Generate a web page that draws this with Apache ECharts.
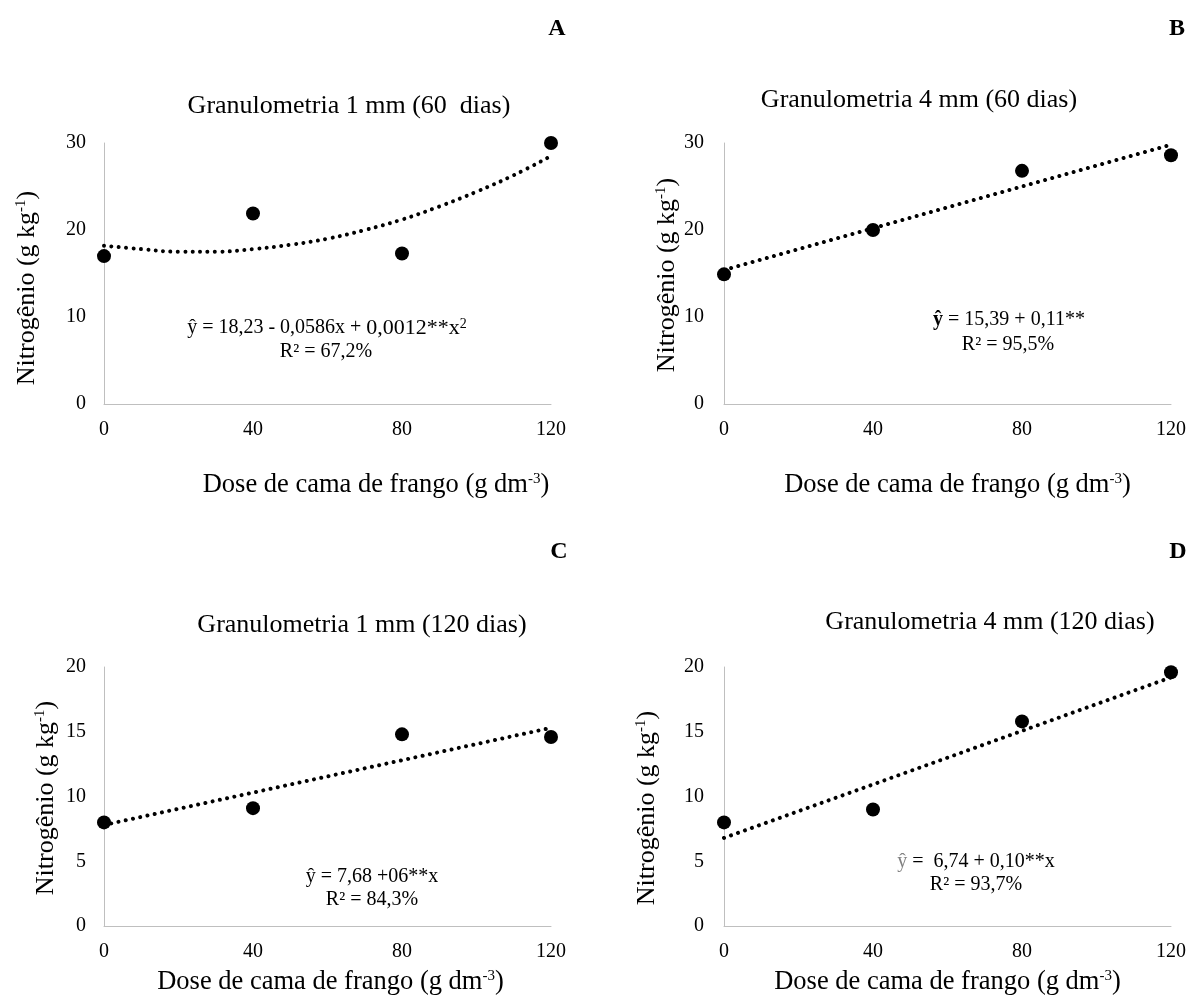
<!DOCTYPE html>
<html>
<head>
<meta charset="utf-8">
<script src="https://cdn.jsdelivr.net/npm/echarts@6/dist/echarts.min.js"></script>
<style>html,body{margin:0;padding:0;background:#fff}#chart{width:1189px;height:1000px}</style>
</head>
<body>
<div id="chart"></div>
<script>
// ---- data ----
const doses = [0, 40, 80, 120];
const xTicks = [0, 40, 80, 120];
const panelLetters = ['A', 'B', 'C', 'D'];
const panelTitles = [
  'Granulometria 1 mm (60  dias)',
  'Granulometria 4 mm (60 dias)',
  'Granulometria 1 mm (120 dias)',
  'Granulometria 4 mm (120 dias)'
];
const nitrogenA = [17.0, 21.9, 17.3, 30.0];
const nitrogenB = [14.9, 20.0, 26.8, 28.6];
const nitrogenC = [8.0, 9.1, 14.8, 14.6];
const nitrogenD = [8.0, 9.0, 15.8, 19.6];
// trend lines
const trendAx = [0, 10, 20, 30, 40, 50, 60, 70, 80, 90, 100, 110, 120];
const trendAy = [18.2, 17.8, 17.5, 17.5, 17.8, 18.3, 19.0, 20.0, 21.2, 22.7, 24.4, 26.3, 28.5];
const trendBx = [0, 120];
const trendBy = [15.4, 29.8];
const trendCx = [0, 120];
const trendCy = [7.8, 15.3];
const trendDx = [0, 120];
const trendDy = [6.8, 19.2];
const yMax = [30, 30, 20, 20];
const yInterval = [10, 10, 5, 5];

const FONT = '"Liberation Serif", "Times New Roman", serif';
const chart = echarts.init(document.getElementById('chart'));

const grids = [
  {left: 104, top: 143, width: 447, height: 261},
  {left: 724, top: 143, width: 448, height: 261},
  {left: 104, top: 667, width: 447, height: 259},
  {left: 724, top: 667, width: 448, height: 259}
];
const xNamePad = [[0, 0, 0, 97], [0, 0, 0, 20], [0, 0, 0, 6], [0, 0, 0, 0]];
const yNamePad = [[0, 29, 0, 0], [0, 3, 0, 0], [0, 3, 0, 0], [0, 23, 0, 0]];
const yNameGap = [64, 44, 45, 64];
const xNameGap = [68, 68, 43, 43];

const axisLine = {show: true, lineStyle: {color: '#bfbfbf', width: 1}};
const xAxes = grids.map((g, i) => ({
  type: 'value', gridIndex: i, min: 0, max: 120, interval: 40,
  axisLine: axisLine, axisTick: {show: false}, splitLine: {show: false},
  axisLabel: {fontFamily: FONT, fontSize: 20, color: '#000', margin: 16},
  name: 'Dose de cama de frango (g dm{sup|-3})',
  nameLocation: 'middle', nameGap: xNameGap[i],
  nameTextStyle: {
    fontFamily: FONT, fontSize: 26.5, color: '#000', padding: xNamePad[i],
    rich: {sup: {fontFamily: FONT, fontSize: 15, color: '#000', verticalAlign: 'top', lineHeight: 26}}
  }
}));
const yAxes = grids.map((g, i) => ({
  type: 'value', gridIndex: i, min: 0, max: yMax[i], interval: yInterval[i],
  axisLine: axisLine, axisTick: {show: false}, splitLine: {show: false},
  axisLabel: {fontFamily: FONT, fontSize: 20, color: '#000', margin: i % 2 ? 20 : 18},
  name: 'Nitrogênio (g kg{sup|-1})',
  nameLocation: 'middle', nameGap: yNameGap[i], nameRotate: 90,
  nameTextStyle: {
    fontFamily: FONT, fontSize: 26, color: '#000', padding: yNamePad[i],
    rich: {sup: {fontFamily: FONT, fontSize: 15, color: '#000', verticalAlign: 'top', lineHeight: 26}}
  }
}));

const pts = [nitrogenA, nitrogenB, nitrogenC, nitrogenD];
const trends = [[trendAx, trendAy], [trendBx, trendBy], [trendCx, trendCy], [trendDx, trendDy]];
const series = [];
trends.forEach((t, i) => {
  series.push({
    type: 'line', xAxisIndex: i, yAxisIndex: i, smooth: i === 0 ? 0.4 : false,
    showSymbol: false, symbol: 'none', silent: true,
    data: t[0].map((x, k) => [x, t[1][k]]),
    lineStyle: {color: '#000', width: 4, type: [0.01, 7.4], cap: 'round'},
    z: 2
  });
});
pts.forEach((p, i) => {
  series.push({
    type: 'scatter', xAxisIndex: i, yAxisIndex: i,
    symbol: 'circle', symbolSize: 14,
    itemStyle: {color: '#000', opacity: 1},
    data: doses.map((d, k) => [d, p[k]]),
    z: 3
  });
});

const titleCenters = [[344, 103], [914, 97], [357, 622], [985, 619]];
const titles = panelTitles.map((t, i) => ({
  text: t, left: titleCenters[i][0], top: titleCenters[i][1] - 15, textAlign: 'center',
  textStyle: {fontFamily: FONT, fontSize: 26, fontWeight: 'normal', color: '#000'}
}));

const letterPos = [[557, 29], [1177, 29], [559, 552], [1178, 552]];
const graphics = panelLetters.map((L, i) => ({
  type: 'text', x: letterPos[i][0], y: letterPos[i][1],
  style: {text: L, font: 'bold 24px ' + FONT, fill: '#000', align: 'center', verticalAlign: 'middle'}
}));

function eq(x, y, text, rich) {
  return {type: 'text', x: x, y: y,
    style: {text: text, align: 'center', verticalAlign: 'middle', rich: rich, fill: '#000', font: '20px ' + FONT}};
}
const richBase = {
  big: {fontFamily: FONT, fontSize: 22, fill: '#000'},
  sup: {fontFamily: FONT, fontSize: 14, fill: '#000', verticalAlign: 'top', lineHeight: 22},
  b: {fontFamily: FONT, fontSize: 20, fontWeight: 'bold', fill: '#000'},
  g: {fontFamily: FONT, fontSize: 20, fill: '#808080'}
};
graphics.push(eq(327, 328, 'ŷ = 18,23 - 0,0586x + {big|0,0012**x}{sup|2}', richBase));
graphics.push(eq(326, 352, 'R² = 67,2%', richBase));
graphics.push(eq(1009, 320, '{b|ŷ} = 15,39 + 0,11**', richBase));
graphics.push(eq(1008, 345, 'R² = 95,5%', richBase));
graphics.push(eq(372, 877, 'ŷ = 7,68 +06**x', richBase));
graphics.push(eq(372, 900, 'R² = 84,3%', richBase));
graphics.push(eq(976, 862, '{g|ŷ} =  6,74 + 0,10**x', richBase));
graphics.push(eq(976, 885, 'R² = 93,7%', richBase));

chart.setOption({
  backgroundColor: '#fff',
  animation: false,
  title: titles,
  grid: grids,
  xAxis: xAxes,
  yAxis: yAxes,
  series: series,
  graphic: graphics
});
</script>
</body>
</html>
